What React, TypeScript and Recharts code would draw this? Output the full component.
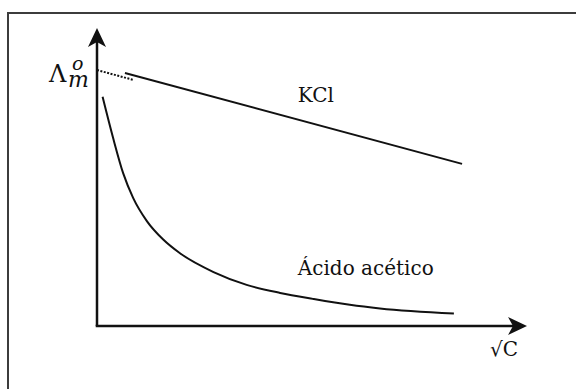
import React from "react";
import { LineChart, Line, XAxis, YAxis, ReferenceLine, ReferenceDot } from "recharts";

// sqrt(C) on x, molar conductivity on y (arbitrary units, sketch)
const kclX = [0.65, 8.49];
const kclY = [8.49, 5.44];
const extrapX = [0, 0.84];
const extrapY = [8.59, 8.26];
const acidX = [0.13, 0.38, 0.61, 0.84, 1.16, 1.54, 1.93, 2.71, 3.48, 4.26, 5.02, 5.88, 6.58, 8.3];
const acidY = [7.69, 6.28, 5.12, 4.3, 3.52, 2.9, 2.44, 1.81, 1.38, 1.11, 0.91, 0.71, 0.59, 0.42];

const toRows = (xs: number[], ys: number[]) => xs.map((x, i) => ({ x, y: ys[i] }));

const kclData = toRows(kclX, kclY);
const extrapData = toRows(extrapX, extrapY);
const acidData = toRows(acidX, acidY);

const INK = "#111";
const SERIF = "DejaVu Serif";

const textShape = (label: string, size = 20) => (p: any) => (
  <text x={p.cx} y={p.cy} fontFamily={SERIF} fontSize={size} fill={INK}>
    {label}
  </text>
);

const lambdaShape = (p: any) => (
  <text fontFamily={SERIF} fill={INK}>
    <tspan x={p.cx - 48} y={p.cy} fontSize={24}>Λ</tspan>
    <tspan x={p.cx - 25} y={p.cy - 12} fontSize={19} fontStyle="italic">o</tspan>
    <tspan x={p.cx - 29} y={p.cy + 5} fontSize={22} fontStyle="italic">m</tspan>
  </text>
);

const arrowUp = (p: any) => (
  <polygon
    points={`${p.cx},${p.cy} ${p.cx - 9},${p.cy + 19} ${p.cx},${p.cy + 14} ${p.cx + 9},${p.cy + 19}`}
    fill={INK}
  />
);

const arrowRight = (p: any) => (
  <polygon
    points={`${p.cx},${p.cy} ${p.cx - 19},${p.cy - 9} ${p.cx - 14},${p.cy} ${p.cx - 19},${p.cy + 9}`}
    fill={INK}
  />
);

export default function App() {
  return (
    <div
      style={{
        position: "absolute",
        left: 0,
        top: 0,
        width: 576,
        height: 389,
        overflow: "hidden",
        background: "#fff",
      }}
    >
      <div
        style={{
          position: "absolute",
          left: 7,
          top: 12,
          width: 620,
          height: 420,
          border: "2px solid #3c3c3c",
        }}
      />
      <div style={{ position: "absolute", left: 0, top: 0 }}>
        <LineChart width={576} height={389} margin={{ top: 28, right: 49, bottom: 63, left: 97 }}>
          <XAxis type="number" dataKey="x" domain={[0, 10]} hide allowDataOverflow />
          <YAxis type="number" dataKey="y" domain={[0, 10]} hide allowDataOverflow />

          <ReferenceLine segment={[{ x: 0, y: 0 }, { x: 0, y: 9.6 }]} stroke={INK} strokeWidth={2.5} ifOverflow="visible" />
          <ReferenceLine segment={[{ x: -0.03, y: 0 }, { x: 9.7, y: 0 }]} stroke={INK} strokeWidth={2.5} ifOverflow="visible" />
          <ReferenceDot x={0} y={10} r={1} shape={arrowUp} ifOverflow="visible" />
          <ReferenceDot x={10} y={0} r={1} shape={arrowRight} ifOverflow="visible" />

          <Line data={extrapData} dataKey="y" stroke={INK} strokeWidth={2} strokeDasharray="2 1.5" dot={false} isAnimationActive={false} />
          <Line data={kclData} dataKey="y" stroke={INK} strokeWidth={2} dot={false} isAnimationActive={false} />
          <Line data={acidData} dataKey="y" type="monotone" stroke={INK} strokeWidth={2} dot={false} isAnimationActive={false} />

          <ReferenceDot x={4.67} y={7.52} r={1} shape={textShape("KCl")} ifOverflow="visible" />
          <ReferenceDot x={4.67} y={1.71} r={1} shape={textShape("Ácido acético")} ifOverflow="visible" />
          <ReferenceDot x={9.14} y={-1.0} r={1} shape={textShape("√C")} ifOverflow="visible" />
          <ReferenceDot x={0} y={8.19} r={1} shape={lambdaShape} ifOverflow="visible" />
        </LineChart>
      </div>
    </div>
  );
}
